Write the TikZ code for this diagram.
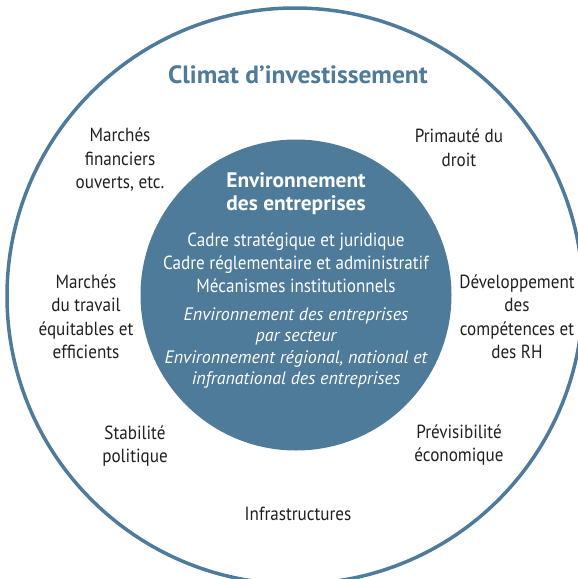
\documentclass[tikz,border=0pt]{standalone}
\usepackage{fontspec}
\setmainfont{PT Sans}[FakeStretch=0.9,
  BoldFeatures={FakeStretch=1.02},
  ItalicFeatures={FakeStretch=1.0}]
\definecolor{ringblue}{HTML}{4E7B9A}
\definecolor{inktext}{HTML}{231F20}
\begin{document}
\begin{tikzpicture}[x=1pt,y=-1pt,
  ring/.style={draw=ringblue,line width=3.5pt},
  core/.style={fill=ringblue},
  title/.style={text=ringblue,font=\fontsize{25}{30}\selectfont\bfseries},
  factor/.style={text=inktext,align=center,inner sep=0pt,font=\fontsize{19}{23.5}\selectfont},
  corehead/.style={text=white,align=center,inner sep=0pt,font=\fontsize{21}{23}\selectfont\bfseries},
  coreitem/.style={text=white,align=center,inner sep=0pt,font=\fontsize{19}{23}\selectfont},
  coreital/.style={text=white,align=center,inner sep=0pt,font=\fontsize{18}{21.5}\selectfont\itshape}]
\useasboundingbox (0,0) rectangle (578,579);
\path[clip] (0,0) rectangle (578,579);

% outer ring: investment climate
\draw[ring] (295,296) circle[radius=288];
% inner disc: business environment
\fill[core] (296,295) circle[radius=155.5];

\node[title] (climat) at (298,75) {Climat d’investissement};

% factors around the ring
\node[factor] (financiers) at (120,160) {Marchés\\financiers\\ouverts, etc.};
\node[factor] (droit) at (459,148) {Primauté du\\droit};
\node[factor] (travail) at (86,317) {Marchés\\du travail\\équitables et\\efficients};
\node[factor] (competences) at (517,317) {Développement\\des\\compétences et\\des RH};
\node[factor] (stabilite) at (135,446) {Stabilité\\politique};
\node[factor] (previsibilite) at (459,445) {Prévisibilité\\économique};
\node[factor] (infra) at (298,514) {Infrastructures};

% contents of the inner disc
\node[corehead] (env) at (296,193.5) {Environnement\\des entreprises};
\node[coreitem] (cadres) at (296,263) {Cadre stratégique et juridique\\Cadre réglementaire et administratif\\Mécanismes institutionnels};
\node[coreital] (niveaux) at (296,348) {Environnement des entreprises\\par secteur\\Environnement régional, national et\\infranational des entreprises};
\end{tikzpicture}
\end{document}
